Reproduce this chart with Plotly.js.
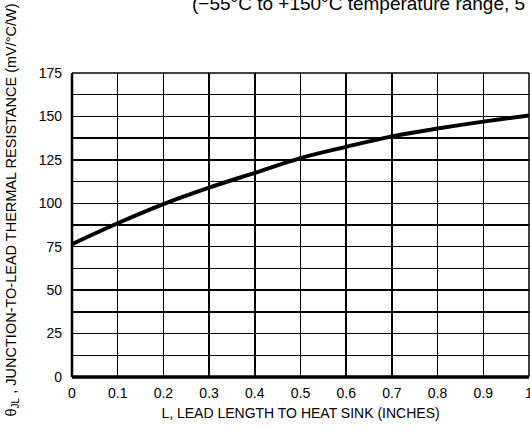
<!DOCTYPE html>
<html>
<head>
<meta charset="utf-8">
<script src="https://cdn.plot.ly/plotly-3.0.1.min.js"></script>
<style>html,body{margin:0;padding:0;background:#fff;}#chart{width:530px;height:436px;}</style>
</head>
<body>
<div id="chart"></div>
<script>
// Lead length (inches)
const leadLength = [0, 0.1, 0.2, 0.3, 0.4, 0.5, 0.6, 0.7, 0.8, 0.9, 1.0];
// Junction-to-lead thermal resistance (mV/°C/W)
const thermalRes = [76.5, 88.5, 99.5, 109, 117.5, 126, 132.5, 138.5, 143, 147, 150.5];

const xTickVals = [0, 0.1, 0.2, 0.3, 0.4, 0.5, 0.6, 0.7, 0.8, 0.9, 1.0];
const xTickText = ["0", "0.1", "0.2", "0.3", "0.4", "0.5", "0.6", "0.7", "0.8", "0.9", "1"];
const yTickVals = [0, 25, 50, 75, 100, 125, 150, 175];
const yTickText = ["0", "25", "50", "75", "100", "125", "150", "175"];

const FONT = "'Liberation Sans Narrow', 'Liberation Sans', Arial, sans-serif";

const trace = {
  x: leadLength,
  y: thermalRes,
  type: 'scatter',
  mode: 'lines',
  line: {color: '#000', width: 4, shape: 'spline'},
  hoverinfo: 'skip'
};

const layout = {
  width: 530, height: 436,
  margin: {l: 72, r: 1, t: 73, b: 59},
  paper_bgcolor: '#fff', plot_bgcolor: '#fff',
  showlegend: false,
  font: {family: FONT, color: '#000', size: 14},
  xaxis: {
    range: [0, 1], tickvals: xTickVals, ticktext: xTickText,
    showgrid: true, gridcolor: '#000', gridwidth: 1.5,
    zeroline: false, showline: false, ticks: '',
    ticklabelstandoff: 6, ticklabeloverflow: 'allow',
    tickfont: {family: FONT, size: 14, color: '#000'},
    title: {text: 'L, LEAD LENGTH TO HEAT SINK (INCHES)', font: {family: FONT, size: 14, color: '#000'}, standoff: 8},
    fixedrange: true
  },
  yaxis: {
    range: [0, 175], tickvals: yTickVals, ticktext: yTickText,
    showgrid: true, gridcolor: '#000', gridwidth: 1.5,
    minor: {dtick: 12.5, showgrid: true, gridcolor: '#000', gridwidth: 1.5, ticks: ''},
    zeroline: false, showline: false, ticks: '',
    ticklabelstandoff: 9,
    tickfont: {family: FONT, size: 14, color: '#000'},
    fixedrange: true
  },
  shapes: [
    {type: 'line', xref: 'paper', yref: 'paper', x0: 0, x1: 1, y0: 0, y1: 0, line: {color: '#000', width: 3.5}},
    {type: 'line', xref: 'paper', yref: 'paper', x0: 0, x1: 0, y0: 0, y1: 1, line: {color: '#000', width: 2.5}},
    {type: 'line', xref: 'paper', yref: 'paper', x0: 0, x1: 1, y0: 1, y1: 1, line: {color: '#000', width: 1.5}},
    {type: 'line', xref: 'paper', yref: 'paper', x0: 1, x1: 1, y0: 0, y1: 1, line: {color: '#000', width: 1.5}}
  ],
  annotations: [
    {
      text: 'θ<sub>JL</sub> , JUNCTION-TO-LEAD THERMAL RESISTANCE (mV/°C/W)',
      xref: 'paper', yref: 'paper', x: -0.131, y: 0.548,
      xanchor: 'center', yanchor: 'middle', textangle: -90, showarrow: false,
      font: {family: FONT, size: 14.5, color: '#000'}
    },
    {
      text: '(−55°C to +150°C temperature range, 5',
      xref: 'paper', yref: 'paper', x: 0.258, y: 1.229,
      xanchor: 'left', yanchor: 'middle', showarrow: false,
      font: {family: FONT, size: 19, color: '#000'}
    }
  ]
};

Plotly.newPlot('chart', [trace], layout, {staticPlot: true, displayModeBar: false});
</script>
</body>
</html>
